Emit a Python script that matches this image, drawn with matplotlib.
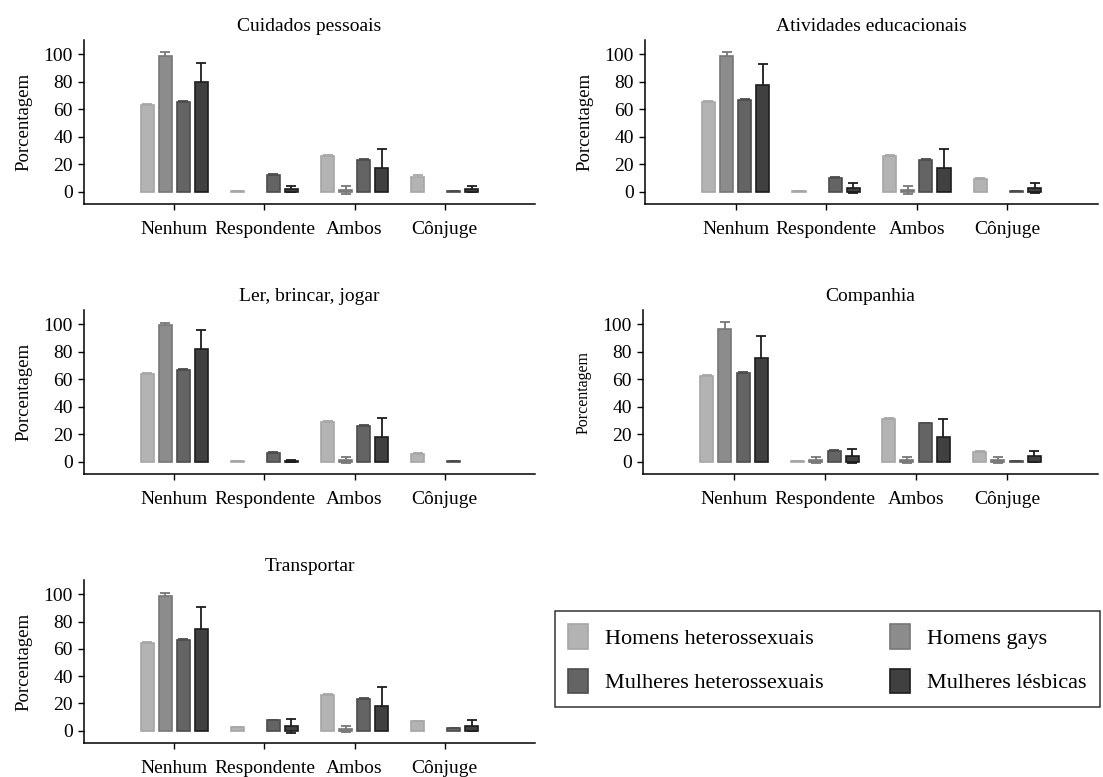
import matplotlib
matplotlib.use("Agg")
import matplotlib.pyplot as plt
from matplotlib.patches import Patch
import numpy as np

plt.rcParams["font.family"] = ["Liberation Serif", "DejaVu Serif"]

categorias = ["Nenhum", "Respondente", "Ambos", "Cônjuge"]
grupos = ["Homens heterossexuais", "Homens gays",
          "Mulheres heterossexuais", "Mulheres lésbicas"]

# Percentual médio por grupo (linhas: grupos; colunas: categorias)
cuidados_pessoais = [[63, 0.5, 26, 11], [99, 0, 1.2, 0],
                     [65, 12, 23, 0.5], [80, 2, 17.5, 2]]
cuidados_pessoais_ic = [[0.8, 0.3, 0.8, 0.8], [2.5, 0, 2.7, 0],
                        [0.8, 0.8, 0.8, 0.3], [14, 2, 13.5, 2]]

atividades_educacionais = [[65, 0.5, 26, 9], [99, 0, 1.2, 0],
                           [67, 10, 23, 0.5], [78, 2.5, 17, 2.5]]
atividades_educacionais_ic = [[0.8, 0.3, 0.8, 0.8], [2.5, 0, 2.7, 0],
                              [0.8, 0.8, 0.8, 0.3], [15, 3.5, 14, 3.5]]

ler_brincar_jogar = [[64, 0.5, 29, 5.5], [99.5, 0, 1.2, 0],
                     [67, 6.5, 26, 0.5], [82, 0.5, 18, 0]]
ler_brincar_jogar_ic = [[0.8, 0.3, 0.8, 0.5], [1.5, 0, 2, 0],
                        [0.8, 0.5, 0.8, 0.3], [14, 0.8, 13.5, 0]]

companhia = [[62.5, 0.5, 31, 7], [97, 1.2, 1.2, 1.2],
             [64.5, 8, 28, 0.5], [75.5, 4, 18, 4]]
companhia_ic = [[0.8, 0.3, 0.8, 0.5], [5, 2, 2, 2],
                [0.8, 0.5, 0.3, 0.3], [16, 5, 13, 4]]

transportar = [[64.5, 2.7, 26, 7], [99, 0, 1.2, 0],
               [66.5, 7.5, 23, 1.7], [74.5, 3.6, 18, 3.6]]
transportar_ic = [[0.8, 0.3, 0.8, 0.3], [2, 0, 2, 0],
                  [0.8, 0.3, 0.8, 0.5], [16, 5, 14, 4]]

titulos = ["Cuidados pessoais", "Atividades educacionais",
           "Ler, brincar, jogar", "Companhia", "Transportar"]
medias = [cuidados_pessoais, atividades_educacionais, ler_brincar_jogar,
          companhia, transportar]
intervalos = [cuidados_pessoais_ic, atividades_educacionais_ic,
              ler_brincar_jogar_ic, companhia_ic, transportar_ic]

cores = ["#b3b3b3", "#8c8c8c", "#646464", "#404040"]
bordas = ["#a6a6a6", "#777777", "#4c4c4c", "#1c1c1c"]

W, H = 1103, 777
fig = plt.figure(figsize=(W / 100, H / 100), dpi=100)


def caixa(esq, dir_, topo, base):
    return [esq / W, 1 - base / H, (dir_ - esq) / W, (base - topo) / H]


posicoes = [caixa(84, 535, 40, 204), caixa(645, 1098, 40, 204),
            caixa(84, 535, 310, 474), caixa(643, 1098, 310, 474),
            caixa(84, 535, 580, 743)]
tam_ylabel = [13.5, 13.5, 13.5, 11.5, 13.5]

x = np.arange(1, len(categorias) + 1)
desloc = [-0.3, -0.1, 0.1, 0.3]
largura = 0.145

for titulo, med, ic, pos, tyl in zip(titulos, medias, intervalos,
                                     posicoes, tam_ylabel):
    ax = fig.add_axes(pos)
    for g in range(len(grupos)):
        vals = np.array(med[g], dtype=float)
        errs = np.array(ic[g], dtype=float)
        xs = x + desloc[g]
        tem = (vals > 0) | (errs > 0)
        ax.errorbar(xs[errs > 0], vals[errs > 0], yerr=errs[errs > 0],
                    fmt="none", ecolor=bordas[g], elinewidth=1.3,
                    capsize=3.3, capthick=1.3, zorder=1)
        ax.bar(xs[tem], vals[tem], width=largura, color=cores[g],
               edgecolor=bordas[g], linewidth=1.2, zorder=2)
    ax.set_xlim(0, 5)
    ax.set_ylim(-9, 110.5)
    ax.set_xticks(x)
    ax.set_xticklabels(categorias, fontsize=14)
    ax.set_yticks(range(0, 101, 20))
    ax.tick_params(axis="y", labelsize=14, length=4.5, width=1, pad=3.5)
    ax.tick_params(axis="x", length=4.5, width=1, pad=8)
    ax.spines["top"].set_visible(False)
    ax.spines["right"].set_visible(False)
    for s in ("left", "bottom"):
        ax.spines[s].set_linewidth(1.1)
    ax.set_ylabel("Porcentagem", fontsize=tyl, labelpad=8)
    ax.set_title(titulo, fontsize=14, pad=6.5)

handles = [Patch(facecolor=c, edgecolor=b, linewidth=1.2)
           for c, b in zip(cores, bordas)]
ordem = [0, 2, 1, 3]
fig.legend([handles[i] for i in ordem], [grupos[i] for i in ordem],
           loc="upper left", bbox_to_anchor=(555 / W, 1 - 611 / H),
           borderaxespad=0, ncol=2, fontsize=16, frameon=True,
           fancybox=False, edgecolor="black", handlelength=0.9,
           handleheight=1.3, handletextpad=0.75, columnspacing=3.0,
           labelspacing=0.9, borderpad=0.6)
fig.legends[0].get_frame().set_linewidth(1.1)

fig.savefig("out.png", dpi=100)
